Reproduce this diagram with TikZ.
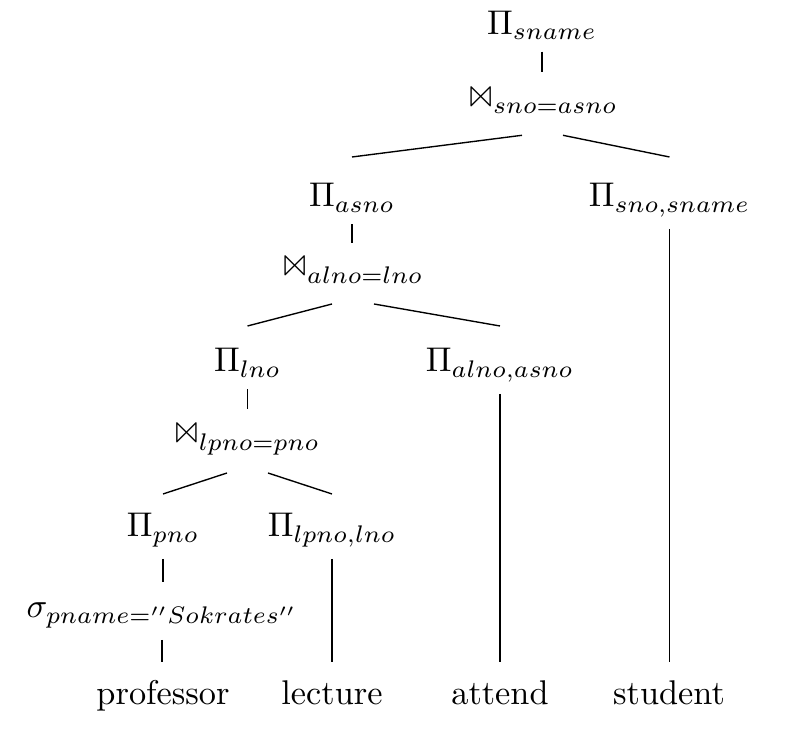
\documentclass[tikz,border=0pt]{standalone}
\usepackage{latexsym}
\usetikzlibrary{calc}
\begin{document}
\begin{tikzpicture}[x=0.2915pt,y=-0.2915pt,
  lbl/.style={anchor=base, inner sep=3.33pt},
  edg/.style={line width=0.4pt, draw=black}]
\useasboundingbox (0,0) rectangle (787,731);
% nodes (x centre, baseline y) in pixels
\node[lbl] (r0)    at (542,34.5) {$\Pi_{sname}$};
\node[lbl] (j1)    at (543,108.3) {$\Join_{sno=asno}$};
\node[lbl] (pasno) at (352,207) {$\Pi_{asno}$};
\node[lbl] (psno)  at (669.5,207) {$\Pi_{sno,sname}$};
\node[lbl] (j2)    at (353,278) {$\Join_{alno=lno}$};
\node[lbl] (plno)  at (247.5,372) {$\Pi_{lno}$};
\node[lbl] (palno) at (500,372) {$\Pi_{alno,asno}$};
\node[lbl] (j3)    at (247,445) {$\Join_{lpno=pno}$};
\node[lbl] (ppno)  at (163,537) {$\Pi_{pno}$};
\node[lbl] (plpno) at (332,537) {$\Pi_{lpno,lno}$};
\node[lbl] (sig)   at (162,618) {$\sigma_{pname=''Sokrates''}$};
\node[lbl] (prof)  at (163,705) {professor};
\node[lbl] (lect)  at (332,705) {lecture};
\node[lbl] (att)   at (500,705) {attend};
\node[lbl] (stud)  at (669,705) {student};
% vertical connectors
\draw[edg] (r0.south) -- ($(r0.south |- j1.base)+(0,-36)$);
\draw[edg] (pasno.south) -- ($(pasno.south |- j2.base)+(0,-35)$);
\draw[edg] (plno.south) -- ($(plno.south |- j3.base)+(0,-36)$);
\draw[edg] (ppno.south) -- ($(ppno.south |- sig.base)+(0,-36)$);
\draw[edg] (sig.south) -- ($(sig.south |- prof.base)+(0,-43)$);
\draw[edg] (plpno.south) -- ($(plpno.south |- lect.base)+(0,-43)$);
\draw[edg] (palno.south) -- ($(palno.south |- att.base)+(0,-43)$);
\draw[edg] (psno.south) -- ($(psno.south |- stud.base)+(0,-43)$);
% slanted connectors
\draw[edg] ($(j1.base)+(-21,27)$) -- ($(pasno.base)+(0,-50)$);
\draw[edg] ($(j1.base)+(20,27)$) -- ($(psno.base)+(0,-50)$);
\draw[edg] ($(j2.base)+(-21,26)$) -- ($(plno.base)+(0,-46)$);
\draw[edg] ($(j2.base)+(21,26)$) -- ($(palno.base)+(0,-46)$);
\draw[edg] ($(j3.base)+(-20,28)$) -- ($(ppno.base)+(0,-43)$);
\draw[edg] ($(j3.base)+(21,28)$) -- ($(plpno.base)+(0,-43)$);
\end{tikzpicture}
\end{document}
